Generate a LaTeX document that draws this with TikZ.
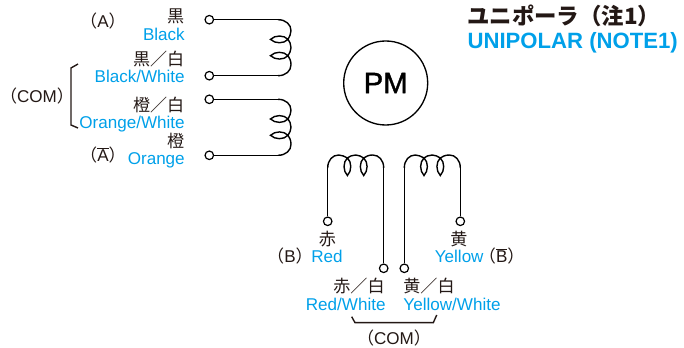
\documentclass[tikz,border=0pt]{standalone}
\usepackage{fontspec}
\setmainfont{Liberation Sans}
\newfontfamily\cjk{Noto Sans CJK JP}
\newfontfamily\pmfont[FakeBold=1.2]{Liberation Sans}
\definecolor{labelblue}{HTML}{00A0E9}
\definecolor{labelink}{HTML}{231815}
\tikzset{
	term/.style={circle,draw,fill=white,line width=0.9pt,minimum size=6.4pt,inner sep=0pt},
	wire/.style={line width=1.05pt},
	lab/.style={inner sep=0pt,yshift=-0.6pt,text height=11pt,text depth=2.4pt,font=\fontsize{12.8}{14}\selectfont},
	colorname/.style={lab,text=labelblue},
	inkname/.style={lab,text=labelink},
	winding/.pic={
		\draw[wire] (0,0) .. controls (8,0) and (13,5) .. (13,11)
		.. controls (13,14) and (11.5,17) .. (10,19.7)
		.. controls (6,24.2) and (-3,24.2) .. (-7.5,19.7)
		.. controls (-3,15.2) and (6,15.2) .. (10,19.7)
		.. controls (11.5,21.5) and (13,24.5) .. (13,28)
		.. controls (13,31) and (11.5,33.5) .. (10,36)
		.. controls (6,40.5) and (-3,40.5) .. (-7.5,36)
		.. controls (-3,31.5) and (6,31.5) .. (10,36)
		.. controls (11.5,38) and (13,41) .. (13,45)
		.. controls (13,51) and (8,56) .. (0,56);
	}
}
\begin{document}
\begin{tikzpicture}[x=0.75pt,y=-0.75pt]
	\useasboundingbox (0,0) rectangle (684,348);
	% terminals
	\node[term] (tblk) at (209.3,19.7){};
	\node[term] (tblkw) at (209.3,75.7){};
	\node[term] (torgw) at (209.3,99.3){};
	\node[term] (torg) at (209.3,155.3){};
	\node[term] (tred) at (327.7,221.3){};
	\node[term] (tredw) at (383.7,268.3){};
	\node[term] (tylww) at (404.3,268.3){};
	\node[term] (tyl) at (460.3,221.3){};
	% windings
	\coordinate (a1) at (278,19.7);
	\coordinate (a2) at (278,75.7);
	\coordinate (c1) at (278,99.3);
	\coordinate (c2) at (278,155.3);
	\coordinate (b1) at (327.7,168);
	\coordinate (b2) at (383.7,168);
	\coordinate (d1) at (404.3,168);
	\coordinate (d2) at (460.3,168);
	\pic at (a1) {winding};
	\pic at (c1) {winding};
	\pic[rotate=90] at (b1) {winding};
	\pic[rotate=90] at (d1) {winding};
	\draw[wire] (tblk) -- (a1);
	\draw[wire] (tblkw) -- (a2);
	\draw[wire] (torgw) -- (c1);
	\draw[wire] (torg) -- (c2);
	\draw[wire] (tred) -- (b1);
	\draw[wire] (tredw) -- (b2);
	\draw[wire] (tylww) -- (d1);
	\draw[wire] (tyl) -- (d2);
	% rotor
	\node[circle,draw,line width=1pt,minimum size=63pt,inner sep=0pt,font=\pmfont\fontsize{22}{24}\selectfont] (pm) at (385.7,83){PM};
	% left side labels
	\node[inkname,anchor=east] (jblk) at (184.5,16){\cjk 黒};
	\node[colorname,anchor=east] (nblk) at (185,34){Black};
	\node[inkname,anchor=east] (jblkw) at (184.5,59){\cjk 黒／白};
	\node[colorname,anchor=east] (nblkw) at (185,76){Black/White};
	\node[inkname,anchor=east] (jorgw) at (184.5,105){\cjk 橙／白};
	\node[colorname,anchor=east] (norgw) at (185,122){Orange/White};
	\node[inkname,anchor=east] (jorg) at (184.5,141){\cjk 橙};
	\node[colorname,anchor=east] (norg) at (185,158){Orange};
	\node[inkname] (pa) at (103,21){{\cjk （}A{\cjk ）}};
	\node[inkname] (pabar) at (103,155){{\cjk （}$\overline{\mbox{A}}${\cjk ）}};
	\node[inkname] (pcoml) at (37,96){{\cjk （}COM{\cjk ）}};
	% bottom labels
	\node[inkname] (jred) at (327.3,239.3){\cjk 赤};
	\node[colorname] (nred) at (327,256.3){Red};
	\node[inkname] (pb) at (290,256.3){{\cjk （}B{\cjk ）}};
	\node[inkname] (jyl) at (459,239.3){\cjk 黄};
	\node[colorname] (nyl) at (459.2,256.3){Yellow};
	\node[inkname] (pbbar) at (501.7,256.3){{\cjk （}$\overline{\mbox{B}}${\cjk ）}};
	\node[inkname] (jredw) at (359,285.7){\cjk 赤／白};
	\node[colorname] (nredw) at (345.7,304){Red/White};
	\node[inkname] (jylw) at (429,285.7){\cjk 黄／白};
	\node[colorname] (nylw) at (452,304){Yellow/White};
	\node[inkname] (pcomb) at (394,337.7){{\cjk （}COM{\cjk ）}};
	% brackets
	\draw[wire,labelink]
	(78,64) -- (71,68) -- (71,125) -- (78,128);
	\draw[wire,labelink]
	(351.7,316.7) -- (355,322.7) -- (433.3,322.7) -- (436.7,315);
	% title
	\node[inner sep=0pt,anchor=west,text=labelink,font=\cjk\bfseries\fontsize{16.8}{19}\selectfont] (tja) at (467,16){ユニポーラ（注1）};
	\node[inner sep=0pt,anchor=west,text=labelblue,font=\bfseries\fontsize{16.6}{18}\selectfont] (ten) at (467.3,43){UNIPOLAR (NOTE1)};
\end{tikzpicture}
\end{document}
